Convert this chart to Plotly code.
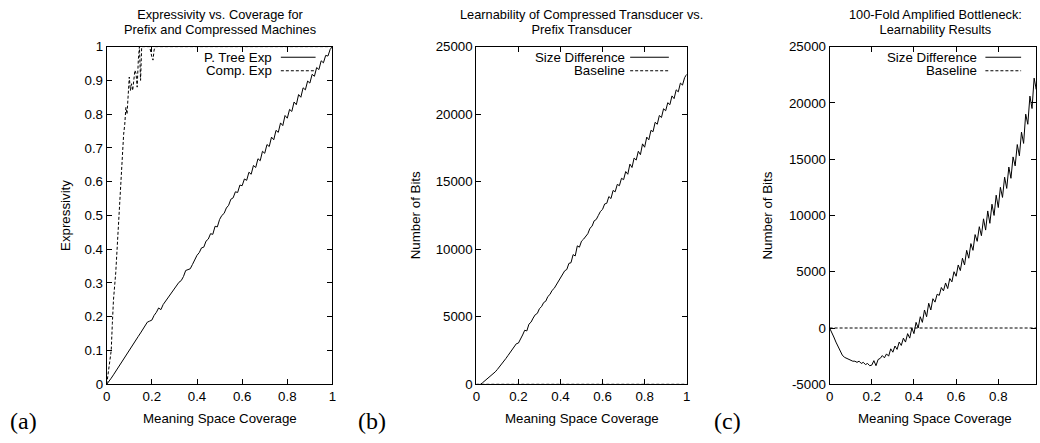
import plotly.graph_objects as go

# ---------------- data ----------------
coverage = [round(i * 0.01, 2) for i in range(101)]

ptree_exp = [
    0.000, 0.008, 0.018, 0.028, 0.038, 0.049, 0.059, 0.069, 0.079, 0.090,
    0.100, 0.111, 0.121, 0.131, 0.142, 0.152, 0.163, 0.172, 0.184, 0.187,
    0.190, 0.204, 0.213, 0.226, 0.221, 0.236, 0.245, 0.254, 0.263, 0.275,
    0.283, 0.292, 0.302, 0.307, 0.319, 0.337, 0.340, 0.342, 0.355, 0.370,
    0.382, 0.390, 0.404, 0.406, 0.424, 0.430, 0.446, 0.444, 0.468, 0.466,
    0.488, 0.500, 0.506, 0.522, 0.530, 0.548, 0.552, 0.570, 0.568, 0.590,
    0.588, 0.608, 0.604, 0.628, 0.622, 0.648, 0.642, 0.668, 0.662, 0.690,
    0.684, 0.710, 0.704, 0.732, 0.724, 0.752, 0.746, 0.774, 0.766, 0.796,
    0.788, 0.814, 0.808, 0.836, 0.828, 0.858, 0.850, 0.878, 0.872, 0.898,
    0.892, 0.918, 0.912, 0.938, 0.932, 0.958, 0.952, 0.974, 0.972, 0.992,
    1.000,
]

comp_x = [0.0, 0.01, 0.02, 0.025, 0.03, 0.04, 0.05, 0.055, 0.06, 0.065,
          0.07, 0.075, 0.08, 0.085, 0.09, 0.095, 0.10, 0.105, 0.11, 0.115,
          0.12, 0.125, 0.13, 0.135, 0.14, 0.145, 0.15, 0.155, 0.16, 0.19,
          0.20, 0.205, 0.21, 0.215, 0.22, 1.0]
comp_exp = [0.0, 0.05, 0.10, 0.18, 0.25, 0.33, 0.45, 0.52, 0.56, 0.64,
            0.70, 0.74, 0.77, 0.82, 0.80, 0.86, 0.91, 0.87, 0.89, 0.87,
            0.90, 0.93, 0.92, 0.88, 0.96, 1.00, 0.90, 1.00, 1.00, 1.00,
            0.97, 0.96, 0.99, 1.00, 1.00, 1.00]

size_diff_b = [
    -100, -50, 0, 120, 250, 380, 500, 600, 760, 920,
    1100, 1280, 1480, 1680, 1900, 2120, 2350, 2560, 2800, 3000,
    3050, 3300, 3650, 4000, 3950, 4450, 4600, 4900, 5150, 5250,
    5600, 5750, 6050, 6150, 6500, 6650, 6950, 7100, 7350, 7600,
    7900, 8050, 8400, 8500, 8950, 9000, 9600, 9500, 10250, 10150,
    10600, 10750, 11000, 11150, 11550, 11700, 12100, 12200, 12500, 12800,
    12950, 13350, 13400, 13900, 13750, 14350, 14250, 14800, 14700, 15250,
    15150, 15750, 15550, 16300, 16050, 16750, 16600, 17250, 17000, 17800,
    17550, 18300, 18100, 18800, 18700, 19400, 19250, 19900, 19750, 20400,
    20250, 20850, 20700, 21350, 21150, 21800, 21650, 22300, 22150, 22700,
    22950,
]
baseline_b = [0] * len(coverage)

size_diff_c = [
    0, -350, -800, -1250, -1650, -2050, -2400, -2600, -2700, -2800,
    -2850, -2950, -2950, -3050, -2950, -3150, -3050, -3250, -3150, -3350,
    -3300, -2900, -3350, -2800, -2700, -2450, -2650, -2300, -2500, -1850,
    -2150, -1600, -1900, -1250, -1550, -900, -1250, -500, -900, 0,
    -500, 500, 0, 1000, 500, 1600, 1000, 2200, 1600, 2600,
    2300, 3000, 2900, 3600, 3300, 4000, 3500, 4400, 4100, 5000,
    4600, 5600, 5100, 6200, 5600, 6900, 6200, 7500, 6900, 8300,
    7700, 9000, 8200, 9700, 8700, 10400, 9300, 11000, 10000, 11800,
    10700, 12500, 11600, 13400, 12400, 14300, 13300, 15200, 14400, 16300,
    15300, 17400, 16400, 19000, 18100, 20600, 19500, 22200, 21200, 23800,
    24200,
]
baseline_c = [0] * len(coverage)

x_ticks = [0, 0.2, 0.4, 0.6, 0.8, 1]
x_tick_labels = ["0", "0.2", "0.4", "0.6", "0.8", "1"]
ya_ticks = [0, 0.1, 0.2, 0.3, 0.4, 0.5, 0.6, 0.7, 0.8, 0.9, 1]
ya_tick_labels = ["0", "0.1", "0.2", "0.3", "0.4", "0.5", "0.6", "0.7", "0.8", "0.9", "1"]
yb_ticks = [0, 5000, 10000, 15000, 20000, 25000]
yb_tick_labels = ["0", "5000", "10000", "15000", "20000", "25000"]
yc_ticks = [-5000, 0, 5000, 10000, 15000, 20000, 25000]
yc_tick_labels = ["-5000", "0", "5000", "10000", "15000", "20000", "25000"]

# ---------------- layout helpers ----------------
W, H = 1040, 443
SANS = "Liberation Sans, Arial, Helvetica, sans-serif"
SERIF = "Liberation Serif, Times New Roman, serif"
FS = 13.3


def px(p):
    return p / W


def py(p):
    return 1 - p / H


TOP, BOT = 41, 390.5
ydom = [py(BOT), py(TOP)]
panels = {
    "a": (103.5, 331.0),
    "b": (476.0, 688.0),
    "c": (832.0, 1040.0),
}

axis_common = dict(
    showline=True, linecolor="black", linewidth=1, mirror="ticks",
    ticks="inside", ticklen=5, tickwidth=1, tickcolor="black",
    showgrid=False, zeroline=False,
    tickfont=dict(family=SANS, size=FS, color="black"),
)

fig = go.Figure()
line_solid = dict(color="black", width=1)
line_dash = dict(color="black", width=1, dash="3px,2px")

fig.add_trace(go.Scatter(x=coverage, y=ptree_exp, mode="lines", line=line_solid,
                         xaxis="x", yaxis="y", showlegend=False, name="P. Tree Exp"))
fig.add_trace(go.Scatter(x=comp_x, y=comp_exp, mode="lines", line=line_dash,
                         xaxis="x", yaxis="y", showlegend=False, name="Comp. Exp"))
fig.add_trace(go.Scatter(x=coverage, y=baseline_b, mode="lines", line=line_dash,
                         xaxis="x2", yaxis="y2", showlegend=False, name="Baseline"))
fig.add_trace(go.Scatter(x=coverage, y=size_diff_b, mode="lines", line=line_solid,
                         xaxis="x2", yaxis="y2", showlegend=False, name="Size Difference"))
fig.add_trace(go.Scatter(x=coverage, y=baseline_c, mode="lines", line=line_dash,
                         xaxis="x3", yaxis="y3", showlegend=False, name="Baseline"))
fig.add_trace(go.Scatter(x=coverage, y=size_diff_c, mode="lines", line=line_solid,
                         xaxis="x3", yaxis="y3", showlegend=False, name="Size Difference"))

c_right = (panels["c"][1] - panels["c"][0]) / 212.5

fig.update_layout(
    width=W, height=H, autosize=False,
    margin=dict(l=0, r=0, t=0, b=0),
    paper_bgcolor="white", plot_bgcolor="white",
    xaxis=dict(axis_common, domain=[px(panels["a"][0]), px(panels["a"][1])], anchor="y",
               range=[0, 1], tickvals=x_ticks, ticktext=x_tick_labels),
    yaxis=dict(axis_common, domain=ydom, anchor="x", range=[0, 1],
               tickvals=ya_ticks, ticktext=ya_tick_labels),
    xaxis2=dict(axis_common, domain=[px(panels["b"][0]), px(panels["b"][1])], anchor="y2",
                range=[0, 1], tickvals=x_ticks, ticktext=x_tick_labels),
    yaxis2=dict(axis_common, domain=ydom, anchor="x2", range=[0, 25000],
                tickvals=yb_ticks, ticktext=yb_tick_labels),
    xaxis3=dict(axis_common, domain=[px(panels["c"][0]), 1.0], anchor="y3",
                range=[0, c_right], tickvals=x_ticks, ticktext=x_tick_labels),
    yaxis3=dict(axis_common, domain=ydom, anchor="x3", range=[-5000, 25000],
                tickvals=yc_ticks, ticktext=yc_tick_labels),
)

annotations = []
shapes = []


def text(x, y, s, size=FS, family=SANS, xanchor="center", angle=0):
    annotations.append(dict(
        x=px(x), y=py(y), xref="paper", yref="paper", text=s, showarrow=False,
        xanchor=xanchor, yanchor="middle", textangle=angle, borderpad=0,
        font=dict(family=family, size=size, color="black"),
    ))


# titles (two tightly spaced lines each), centred on the full plot width
centres = {"a": (103.5 + 331.0) / 2, "b": (476 + 688) / 2, "c": (832 + 1044.5) / 2}
titles = {
    "a": ("Expressivity vs. Coverage for", "Prefix and Compressed Machines"),
    "b": ("Learnability of Compressed Transducer vs.", "Prefix Transducer"),
    "c": ("100-Fold Amplified Bottleneck:", "Learnability Results"),
}
TFS = 12.8
span = '<span style="font-size:%spx">%s</span>'
for k, (l1, l2) in titles.items():
    text(centres[k], 15.5, span % (TFS, l1) + "<br>" + span % (TFS, l2), size=11.4)
    text(centres[k], 426, "Meaning Space Coverage")

text(62, 215.75, "Expressivity", angle=-90)
text(415, 215.75, "Number of Bits", angle=-90)
text(769, 215.75, "Number of Bits", angle=-90)

text(5, 428, "(a)", size=24, family=SERIF, xanchor="left")
text(356, 428, "(b)", size=24, family=SERIF, xanchor="left")
text(714, 428, "(c)", size=24, family=SERIF, xanchor="left")

# gnuplot-style keys: label on the left, line sample on the right
keys = [
    (271, 279, 314, [("P. Tree Exp", "solid"), ("Comp. Exp", "3px,2px")]),
    (627, 631, 670, [("Size Difference", "solid"), ("Baseline", "3px,2px")]),
    (982, 989, 1025, [("Size Difference", "solid"), ("Baseline", "3px,2px")]),
]
for tx, s0, s1, rows in keys:
    for i, (lab, dash) in enumerate(rows):
        yy = 52 + i * 14
        text(tx, yy, lab, xanchor="right")
        shapes.append(dict(type="line", xref="paper", yref="paper",
                           x0=px(s0), x1=px(s1), y0=py(yy), y1=py(yy),
                           line=dict(color="black", width=1, dash=dash)))

fig.update_layout(annotations=annotations, shapes=shapes)
fig.write_html(
    "out.html",
    config={"displayModeBar": False},
    post_script="document.body.style.margin='0';document.body.style.overflow='hidden';",
)
